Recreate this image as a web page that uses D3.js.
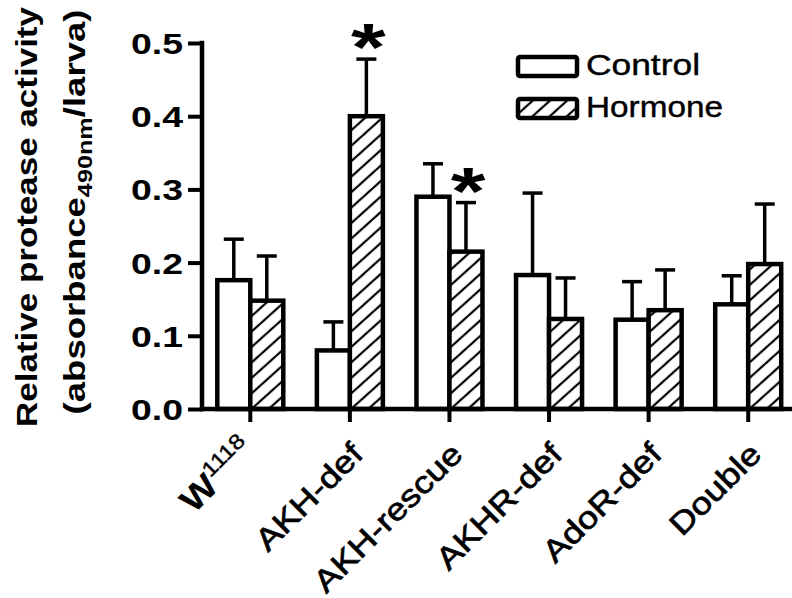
<!DOCTYPE html>
<html>
<head>
<meta charset="utf-8">
<script src="https://cdn.jsdelivr.net/npm/d3@7/dist/d3.min.js"></script>
<style>
  html, body { margin: 0; padding: 0; background: #fff; }
  svg { display: block; }
  text { font-family: "Liberation Sans", Arial, sans-serif; fill: #000; }
</style>
</head>
<body>
<svg id="chart" width="792" height="598"></svg>
<script>
// Genotypes along the x axis (W1118 gets a superscript, handled below)
const groups = ["W1118", "AKH-def", "AKH-rescue", "AKHR-def", "AdoR-def", "Double"];
const series = ["Control", "Hormone"];

// Mean protease activity per genotype
const controlMeans = [0.176, 0.080, 0.290, 0.183, 0.122, 0.143];
const hormoneMeans = [0.148, 0.400, 0.215, 0.123, 0.135, 0.198];
// Upper error (SEM) per genotype
const controlErr = [0.056, 0.039, 0.045, 0.112, 0.052, 0.039];
const hormoneErr = [0.061, 0.078, 0.067, 0.056, 0.055, 0.082];
// Significance markers (above the hormone bar)
const significant = [false, true, true, false, false, false];

const yTicks = [0.0, 0.1, 0.2, 0.3, 0.4, 0.5];

const svg = d3.select("#chart");

// hatch pattern for hormone bars
const defs = svg.append("defs");
const pat = defs.append("pattern")
  .attr("id", "hatch")
  .attr("patternUnits", "userSpaceOnUse")
  .attr("width", 11.5).attr("height", 11.5)
  .attr("patternTransform", "rotate(-42)");
pat.append("rect").attr("width", 11.5).attr("height", 11.5).attr("fill", "#fff");
pat.append("line").attr("x1", 0).attr("x2", 11.5).attr("y1", 5.75).attr("y2", 5.75)
  .attr("stroke", "#000").attr("stroke-width", 2.2);

const x0 = d3.scaleBand().domain(groups).range([200.5, 798]).paddingInner(0).paddingOuter(0);
const x1 = d3.scaleBand().domain(series).range([-33, 33]);
const y = d3.scaleLinear().domain([0, 0.5]).range([409, 43]);

// stretch a text node along its own direction to a given length
function stretch(sel, target, base) {
  const w = sel.node().getComputedTextLength();
  sel.attr("transform", (base || "") + ` scale(${target / w},1)`);
}

const rows = groups.map((g, i) => ({
  group: g,
  vals: [
    { s: "Control", v: controlMeans[i], e: controlErr[i] },
    { s: "Hormone", v: hormoneMeans[i], e: hormoneErr[i] }
  ],
  sig: significant[i]
}));

const gBars = svg.append("g");
const gg = gBars.selectAll("g.grp").data(rows).join("g")
  .attr("class", "grp")
  .attr("transform", d => `translate(${x0(d.group) + x0.bandwidth() / 2},0)`);

// error bars (upper only), drawn before the bars
gg.selectAll("g.err").data(d => d.vals).join("g").attr("class", "err")
  .each(function(d) {
    const g = d3.select(this);
    const cx = x1(d.s) + x1.bandwidth() / 2;
    g.append("line").attr("x1", cx).attr("x2", cx)
      .attr("y1", y(d.v)).attr("y2", y(d.v + d.e))
      .attr("stroke", "#000").attr("stroke-width", 3.5);
    g.append("line").attr("x1", cx - 10).attr("x2", cx + 10)
      .attr("y1", y(d.v + d.e)).attr("y2", y(d.v + d.e))
      .attr("stroke", "#000").attr("stroke-width", 3.5);
  });

gg.selectAll("rect.bar").data(d => d.vals).join("rect").attr("class", "bar")
  .attr("x", d => x1(d.s))
  .attr("width", x1.bandwidth())
  .attr("y", d => y(d.v))
  .attr("height", d => y(0) - y(d.v))
  .attr("fill", d => d.s === "Control" ? "#fff" : "url(#hatch)")
  .attr("stroke", "#000").attr("stroke-width", 4.5);

// significance asterisks
gg.filter(d => d.sig).each(function(d) {
  const ax = x1("Hormone") + x1.bandwidth() / 2 + 2;
  const ay = y(d.vals[1].v + d.vals[1].e) + 11;
  d3.select(this).append("text")
    .attr("text-anchor", "middle")
    .attr("font-size", 66).attr("font-weight", "bold")
    .attr("transform", `translate(${ax},${ay}) scale(1.35,1)`)
    .text("*");
});

// axes
const yAxis = d3.axisLeft(y).tickValues(yTicks).tickSize(14).tickFormat(d3.format(".1f"));
const gy = svg.append("g").attr("transform", "translate(202,0)").call(yAxis);
gy.select(".domain").attr("d", "M0,409V43").attr("stroke-width", 4.5).attr("stroke-linecap", "square");
gy.selectAll(".tick line").attr("stroke-width", 4);
gy.selectAll(".tick text")
  .attr("x", -19).attr("dy", "0.36em")
  .attr("font-size", 29).attr("font-weight", "bold")
  .attr("font-family", "Liberation Sans, Arial, sans-serif")
  .attr("textLength", 52).attr("lengthAdjust", "spacingAndGlyphs");

const xAxis = d3.axisBottom(x0).tickSize(13).tickFormat("");
const gx = svg.append("g").attr("transform", "translate(0,409)").call(xAxis);
gx.select(".domain").attr("d", "M200,0H792").attr("stroke-width", 4.5);
gx.selectAll(".tick line").attr("stroke-width", 4);

// x category labels, rotated
const gLab = svg.append("g");
groups.forEach(g => {
  const cx = x0(g) + x0.bandwidth() / 2;
  const isW = g === "W1118";
  const base = isW ? `translate(${cx + 6},452) rotate(-45)` : `translate(${cx + 15},456) rotate(-45)`;
  const t = gLab.append("text")
    .attr("text-anchor", "end")
    .attr("font-size", 31).attr("font-weight", "normal")
    .attr("stroke", "#000").attr("stroke-width", 0.7);
  if (isW) {
    t.append("tspan").attr("font-size", 34).attr("font-weight", "bold").attr("stroke-width", 0).text("W");
    t.append("tspan").attr("font-size", 21).attr("stroke-width", 0.4).attr("dy", -14).text("1118");
  } else {
    t.text(g);
  }
  const w = t.node().getComputedTextLength();
  stretch(t, w * 1.17, base);
});

// y axis title, two lines
const t1 = svg.append("text")
  .attr("text-anchor", "middle")
  .attr("font-size", 29).attr("font-weight", "bold")
  .text("Relative protease activity");
stretch(t1, 420, "translate(37,217) rotate(-90)");

const t2 = svg.append("text")
  .attr("text-anchor", "middle")
  .attr("font-size", 29).attr("font-weight", "bold");
t2.append("tspan").text("(absorbance");
t2.append("tspan").attr("font-size", 20).attr("dy", 7).text("490nm");
t2.append("tspan").attr("dy", -7).text("/larva)");
stretch(t2, 405, "translate(85,212) rotate(-90)");

// legend
const legend = svg.append("g");
series.forEach((s, i) => {
  const ly = 57 + i * 42;
  legend.append("rect")
    .attr("x", 518).attr("y", ly).attr("width", 59).attr("height", 19)
    .attr("rx", 2)
    .attr("fill", s === "Control" ? "#fff" : "url(#hatch)")
    .attr("stroke", "#000").attr("stroke-width", 4.5);
  legend.append("text")
    .attr("x", 586).attr("y", ly + 17.5)
    .attr("font-size", 29)
    .attr("stroke", "#000").attr("stroke-width", 0.4)
    .attr("textLength", s === "Control" ? 114 : 137)
    .attr("lengthAdjust", "spacingAndGlyphs")
    .text(s);
});
</script>
</body>
</html>
